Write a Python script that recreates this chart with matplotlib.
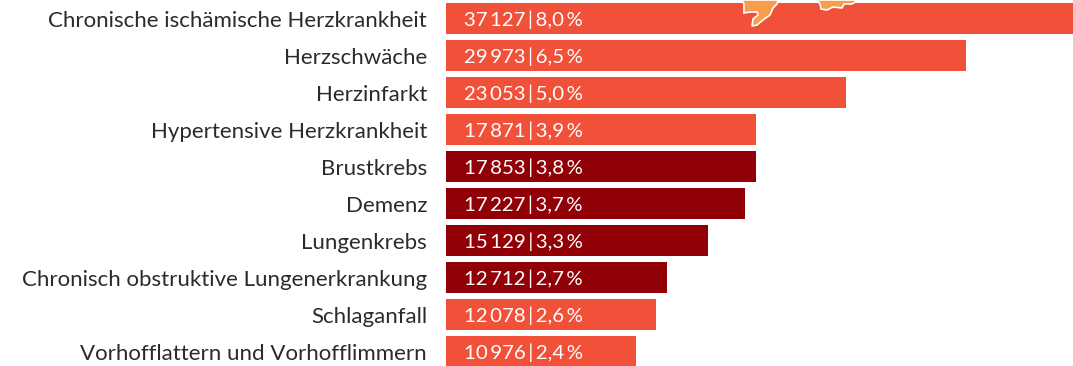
import matplotlib
matplotlib.use("Agg")
import matplotlib.pyplot as plt
from matplotlib.patches import Polygon

plt.rcParams['font.family'] = ['Lato', 'DejaVu Sans']

# ===== DATA =====
causes = ["Chronische ischämische Herzkrankheit", "Herzschwäche", "Herzinfarkt",
          "Hypertensive Herzkrankheit", "Brustkrebs", "Demenz", "Lungenkrebs",
          "Chronisch obstruktive Lungenerkrankung", "Schlaganfall",
          "Vorhofflattern und Vorhofflimmern"]
deaths = [37127, 29973, 23053, 17871, 17853, 17227, 15129, 12712, 12078, 10976]
shares = ["8,0", "6,5", "5,0", "3,9", "3,8", "3,7", "3,3", "2,7", "2,6", "2,4"]
groups = ["h", "h", "h", "h", "d", "d", "d", "d", "h", "h"]

# map pieces poking in at the top, in pixels
map_left = [(742, 0), (744, 4), (744, 13), (750, 12), (757, 12), (758, 15), (753, 19), (752, 26),
            (757, 25), (763, 20), (770, 15), (773, 8), (777, 4), (778, 0)]
map_right = [(817, 0), (820, 4), (821, 9), (827, 10), (833, 7), (842, 8), (844, 4), (852, 4),
             (857, 1), (858, 0)]

COLORS = {"h": "#f15139", "d": "#920007"}
W, H = 1073, 366

fig = plt.figure(figsize=(W / 100, H / 100), dpi=100)
ax = fig.add_axes([446 / W, 0, 1 - 446 / W, 1])

# ===== BARS =====
ypos = list(range(len(causes)))
ax.barh(ypos, deaths, height=31 / 37, color=[COLORS[g] for g in groups])
ax.set_xlim(0, 627 / 0.01735)
ax.set_ylim((H - 18.5) / 37, -18.5 / 37)
ax.axis("off")

# ===== LABELS =====
for y, name, d, s in zip(ypos, causes, deaths, shares):
    ax.annotate(name, (0, y), xytext=(-19, 0), textcoords="offset pixels", ha="right",
                va="center_baseline", fontsize=16, color="#2b2b2b")
    num = f"{d:,}".replace(",", "\u2009")
    ax.annotate(f"{num}\u2009|\u2009{s}\u2009%", (0, y), xytext=(18, 0), textcoords="offset pixels",
                ha="left", va="center_baseline", fontsize=14.7, color="white")

# ===== MAP FRAGMENT =====
for pts in (map_left, map_right):
    fig.add_artist(Polygon([(x / W, 1 - yy / H) for x, yy in pts], closed=True,
                           transform=fig.transFigure, facecolor="#f99d4d",
                           edgecolor="white", linewidth=1.2))

fig.savefig("out.png", dpi=100)
